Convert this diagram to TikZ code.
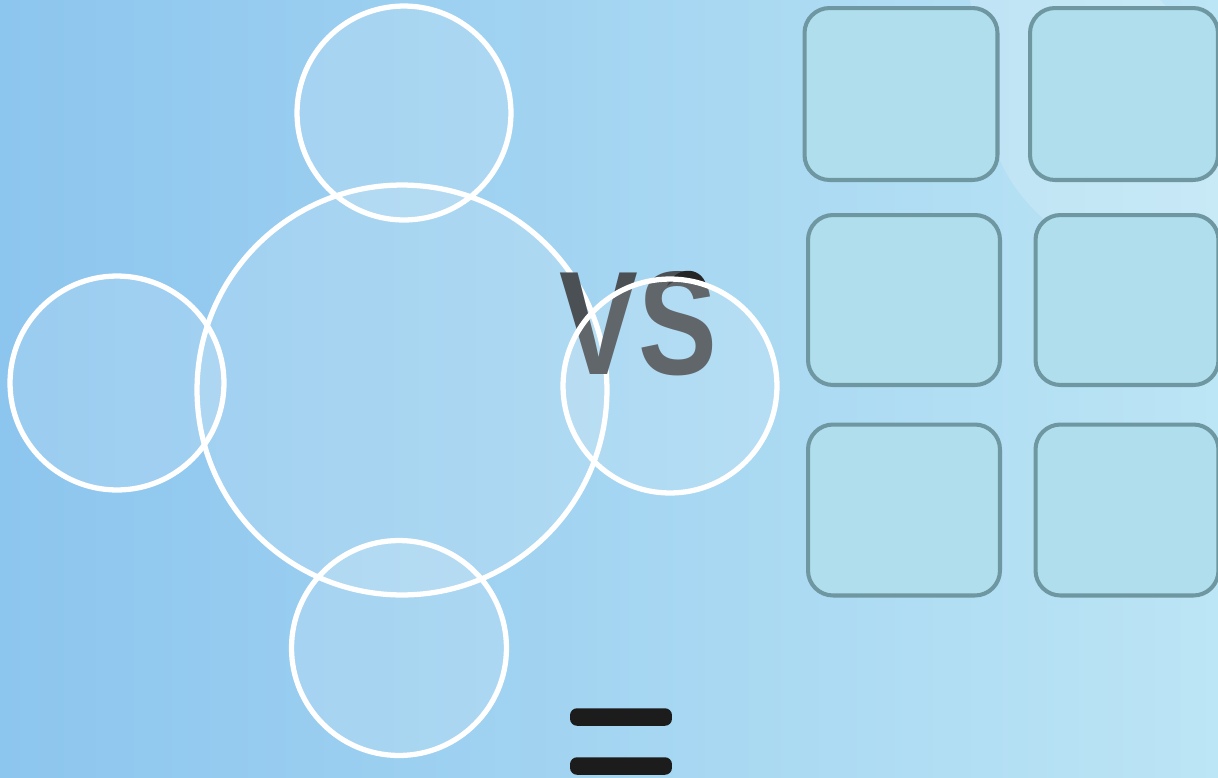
\documentclass[tikz,border=0pt]{standalone}
\usepackage{fontspec}
\setmainfont{Liberation Sans}
\usetikzlibrary{shapes.geometric}
\definecolor{bgleft}{HTML}{8CC5EE}
\definecolor{bgright}{HTML}{BCE5F5}
\definecolor{boxfill}{HTML}{B0DEEC}
\definecolor{boxline}{HTML}{6E97A2}
\definecolor{vsgray}{HTML}{4A5054}
\definecolor{bardark}{HTML}{1C1C1C}
\tikzset{
  circ/.style={circle, draw=white, line width=3pt, fill=white, fill opacity=0.13, draw opacity=1, inner sep=0pt},
  tile/.style={draw=boxline, line width=2.3pt, fill=boxfill, rounded corners=0.5cm, inner sep=0pt},
  bar/.style={fill=bardark, rounded corners=0.14cm, inner sep=0pt, minimum width=2.04cm, minimum height=0.35cm}
}
\begin{document}
\begin{tikzpicture}[x=0.02cm, y=-0.02cm]
\useasboundingbox (0,0) rectangle (1218,778);
\shade[left color=bgleft, right color=bgright] (0,0) rectangle (1218,778);
\fill[white, opacity=0.18] (970,0) -- (1160,0) .. controls (1218,60) .. (1218,150) -- (1218,290) .. controls (1120,280) and (1030,230) .. (1000,160) -- cycle;
% circles
\node[circ, minimum size=8.2cm] (big) at (402,390) {};
\node[circ, minimum size=4.28cm] (top) at (404,113) {};
\node[circ, minimum size=4.28cm] (left) at (117,383) {};
\node[circ, minimum size=4.3cm] (bottom) at (399,648) {};
% VS
\node[text=vsgray, font=\bfseries\fontsize{84}{84}\selectfont, xscale=0.8, inner sep=0pt] (vs) at (638,324) {VS};
\coordinate (sarcA) at (667,286);
\coordinate (sarcB) at (706,284);
\fill[black!85] (sarcA) .. controls (676,266) and (700,266) .. (sarcB) .. controls (698,277) and (678,276) .. (sarcA);
\node[circ, minimum size=4.28cm] (right) at (670,386) {};
% tiles
\node[tile, minimum width=3.86cm, minimum height=3.44cm] (t11) at (901,94) {};
\node[tile, minimum width=3.76cm, minimum height=3.44cm] (t12) at (1124,94) {};
\node[tile, minimum width=3.84cm, minimum height=3.4cm] (t21) at (904,300) {};
\node[tile, minimum width=3.66cm, minimum height=3.4cm] (t22) at (1127,300) {};
\node[tile, minimum width=3.84cm, minimum height=3.42cm] (t31) at (904,510) {};
\node[tile, minimum width=3.66cm, minimum height=3.42cm] (t32) at (1127,510) {};
% equals bars
\node[bar] (eq1) at (621,717) {};
\node[bar] (eq2) at (621,766) {};
\end{tikzpicture}
\end{document}
